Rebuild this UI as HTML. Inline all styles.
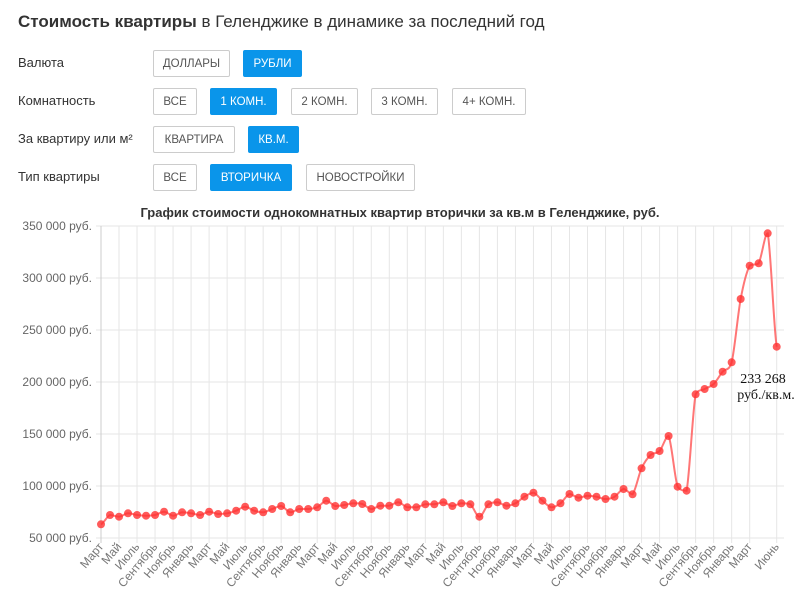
<!DOCTYPE html>
<html><head><meta charset="utf-8"><style>
body{margin:0;width:800px;height:612px;background:#fff;font-family:"Liberation Sans","DejaVu Sans",sans-serif;color:#333;position:relative;overflow:hidden}
.t{position:absolute;left:18px;top:12px;font-size:17px;color:#333}
.l{position:absolute;left:18px;font-size:13px;color:#333}
.b{position:absolute;height:27px;line-height:27px;border:1px solid #ccc;box-sizing:border-box;font-size:11.5px;text-align:center;color:#555;border-radius:2px;background:#fff}
.a{background:#0a95ea;border-color:#0a95ea;color:#fff}
</style></head><body>
<div class="t"><b>Стоимость квартиры</b> в Геленджике в динамике за последний год</div>
<div class="l" style="top:55px">Валюта</div>
<div class="l" style="top:93px">Комнатность</div>
<div class="l" style="top:131px">За квартиру или м²</div>
<div class="l" style="top:169px">Тип квартиры</div>
<div class="b" style="left:153px;top:50px;width:77px">ДОЛЛАРЫ</div>
<div class="b a" style="left:243px;top:50px;width:59px">РУБЛИ</div>
<div class="b" style="left:153px;top:88px;width:44px">ВСЕ</div>
<div class="b a" style="left:210px;top:88px;width:67px">1 КОМН.</div>
<div class="b" style="left:291px;top:88px;width:67px">2 КОМН.</div>
<div class="b" style="left:371px;top:88px;width:67px">3 КОМН.</div>
<div class="b" style="left:452px;top:88px;width:74px">4+ КОМН.</div>
<div class="b" style="left:153px;top:126px;width:82px">КВАРТИРА</div>
<div class="b a" style="left:248px;top:126px;width:51px">КВ.М.</div>
<div class="b" style="left:153px;top:164px;width:44px">ВСЕ</div>
<div class="b a" style="left:210px;top:164px;width:82px">ВТОРИЧКА</div>
<div class="b" style="left:306px;top:164px;width:109px">НОВОСТРОЙКИ</div>
<svg id="c" width="800" height="612" style="position:absolute;left:0;top:0" xmlns="http://www.w3.org/2000/svg" font-family="Liberation Sans, sans-serif">
<text x="400" y="217" text-anchor="middle" font-size="13" font-weight="bold" fill="#333">График стоимости однокомнатных квартир вторички за кв.м в Геленджике, руб.</text>
<g id="g"></g>
<text x="763" y="383" text-anchor="middle" font-size="14" font-family="Liberation Serif, serif" fill="#111">233 268</text>
<text x="766" y="399" text-anchor="middle" font-size="14" font-family="Liberation Serif, serif" fill="#111">руб./кв.м.</text>
</svg>
<script>
var ys=[524.3,515,516.7,513.3,515,515.7,515,511.7,515.7,512.3,513.3,515,511.7,514,513.3,510.7,506.7,510.7,512.3,509,506,512.3,509,509,507.3,500.7,506,505,503.3,504,509,505.7,505.7,502.3,507.3,507.3,504.3,504.3,502.3,506,503.3,504.3,516.7,504.3,502.3,505.7,503.3,496.7,492.7,500.7,507.3,503.3,494,497.7,495.7,496.7,499,496.7,489,494.3,468.3,455,451,436,486.7,490.7,394.3,389,384,371.7,362.3,299,265.7,263.3,233.3,346.7];
var m=["Март","Май","Июль","Сентябрь","Ноябрь","Январь"];
var s="",x0=101,dx=675.7/75;
for(var k=0;k<7;k++){var y=226+k*52;s+='<line x1="96" x2="784" y1="'+y+'" y2="'+y+'" stroke="#e6e6e6"/>';
s+='<text x="92" y="'+(y+4)+'" text-anchor="end" font-size="12" fill="#666">'+(350-k*50)+' 000 руб.</text>';}
var idx=[];for(var i=0;i<=72;i+=2)idx.push(i);idx.push(75);
idx.forEach(function(i,j){var x=x0+i*dx;s+='<line x1="'+x+'" x2="'+x+'" y1="226" y2="543" stroke="'+(i==0?'#ccc':'#e6e6e6')+'"/>';
var lab=i==75?"Июнь":m[(i/2)%6];
s+='<text transform="translate('+(x+3)+',547) rotate(-50)" text-anchor="end" font-size="12" fill="#777">'+lab+'</text>';});
function cl(v,a,b){var lo=Math.min(a,b),hi=Math.max(a,b);return Math.max(lo,Math.min(hi,v));}
var p="M"+x0+","+ys[0];
for(var i=0;i<ys.length-1;i++){var xa=x0+i*dx,xb=xa+dx;var y0=ys[Math.max(i-1,0)],y1=ys[i],y2=ys[i+1],y3=ys[Math.min(i+2,ys.length-1)];
var c1=cl(y1+(y2-y0)/6,y1,y2),c2=cl(y2-(y3-y1)/6,y1,y2);
p+=" C"+(xa+dx/3)+","+c1+" "+(xb-dx/3)+","+c2+" "+xb+","+y2;}
s+='<path d="'+p+'" fill="none" stroke="rgba(255,60,60,0.7)" stroke-width="2"/>';
ys.forEach(function(y,i){s+='<circle cx="'+(x0+i*dx)+'" cy="'+y+'" r="4" fill="rgba(255,50,50,0.8)"/>';});
document.getElementById("g").innerHTML=s;
</script>
</body></html>
